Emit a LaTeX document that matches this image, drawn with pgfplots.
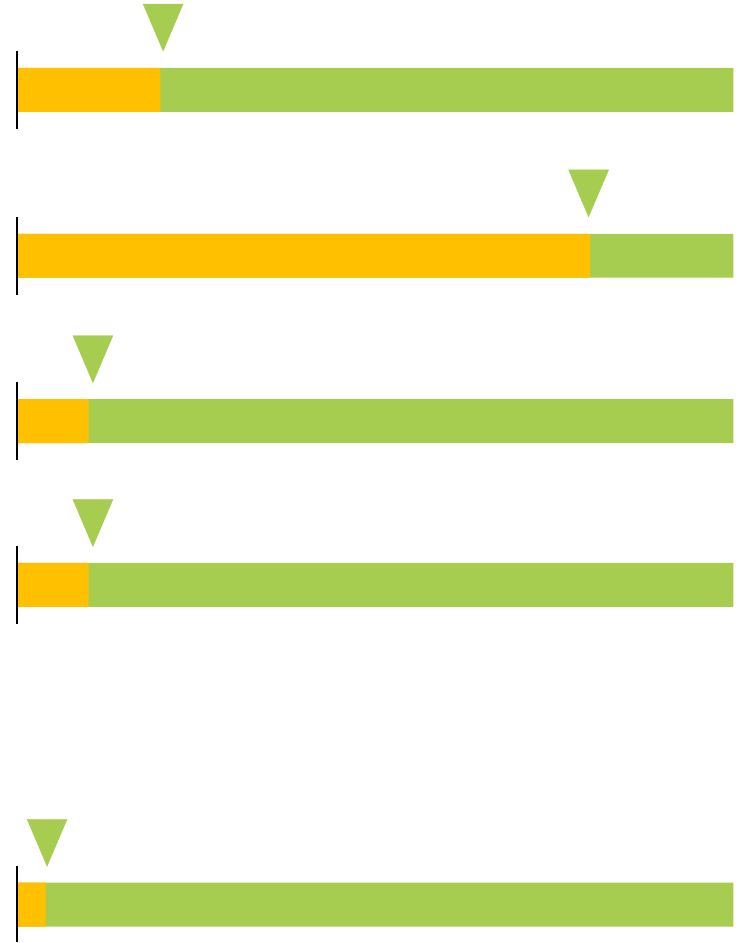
\documentclass[border=0pt]{standalone}
\usepackage{pgfplots}
\pgfplotsset{compat=1.18}
\definecolor{barorange}{RGB}{255,192,0}
\definecolor{bargreen}{RGB}{166,205,80}
\begin{document}
\begin{tikzpicture}
\begin{axis}[
  scale only axis, width=743pt, height=943pt,
  xmin=-0.02371, xmax=1.01255,
  ymin=0, ymax=943, y dir=reverse,
  hide axis, clip=false,
]
% full length (green), then actual share (orange) on top
\addplot[xbar, bar width=44pt, bar shift=0pt, fill=bargreen, draw=none] coordinates {
(1,90) (1,256) (1,421.5) (1,585.5) (1,905.5)};
\addplot[xbar, bar width=44pt, bar shift=0pt, fill=barorange, draw=none] coordinates {
(0.20,90) (0.80,256) (0.10,421.5) (0.10,585.5) (0.04,905.5)};
% target markers
\addplot[only marks, mark=triangle*, mark size=31.33pt, color=bargreen,
  mark options={rotate=180, xscale=0.737, fill=bargreen, draw=bargreen}]
  coordinates {
(0.204,19.7) (0.798,185.7) (0.106,351.7) (0.106,515.7) (0.042,835.7)};
% baseline ticks
\addplot[black, line width=1.8pt, no marks] coordinates {(0,51) (0,129)};
\addplot[black, line width=1.8pt, no marks] coordinates {(0,217) (0,295)};
\addplot[black, line width=1.8pt, no marks] coordinates {(0,382) (0,460)};
\addplot[black, line width=1.8pt, no marks] coordinates {(0,547) (0,625)};
\addplot[black, line width=1.8pt, no marks] coordinates {(0,867) (0,943)};
\path (rel axis cs:0,0) rectangle (rel axis cs:1,1);
\end{axis}
\end{tikzpicture}
\end{document}
